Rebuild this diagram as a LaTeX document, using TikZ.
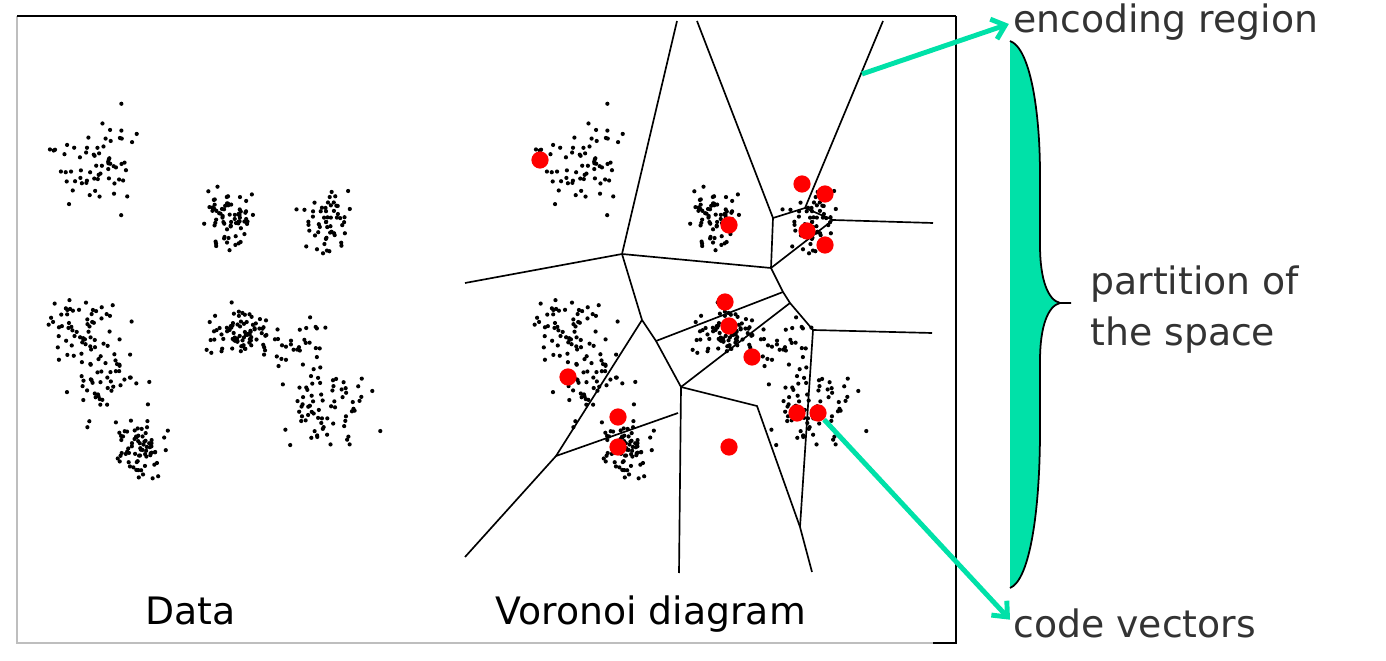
\documentclass[tikz,border=0pt]{standalone}
\usepackage{fontspec}
\setmainfont{DejaVu Sans}
\usetikzlibrary{arrows.meta}
\definecolor{mint}{RGB}{0,225,168}
\definecolor{darktext}{RGB}{51,51,51}
\definecolor{framegray}{RGB}{190,190,190}
\def\cluster(#1,#2)(#3,#4)(#5){\foreach \k in {1,...,#5}{\pgfmathsetmacro{\px}{#1+#3*(rand+rand+rand)}\pgfmathsetmacro{\py}{#2+#4*(rand+rand+rand)}\fill (\px,\py) circle (2.1);}}
\def\datacloud{%
	\pgfmathsetseed{17}%
	\cluster(95,160)(20,22)(65)
	\cluster(229,218)(12,14)(70)
	\cluster(327,222)(12,15)(55)
	\cluster(78,325)(20,18)(55)
	\cluster(104,385)(20,20)(55)
	\cluster(138,448)(12,12)(70)
	\cluster(238,333)(14,12)(80)
	\cluster(300,345)(18,14)(30)
	\cluster(330,405)(22,20)(70)
}

\begin{document}
\begin{tikzpicture}[x=0.2mm, y=-0.2mm,
		cell/.style={line width=0.95pt},
		codevec/.style={circle, fill=red, inner sep=0pt, minimum size=9.8pt},
		pointer/.style={mint, line width=2.8pt, shorten >=2.5pt, -{Straight Barb[length=7pt,width=12pt]}},
		captext/.style={font=\fontsize{21.5}{29}\selectfont, inner sep=0pt, anchor=base west},
		notetext/.style={captext, text=darktext}]
		%%%%% START %%%%%
		\useasboundingbox (0,0) rectangle (1386,661);
		
		\draw[framegray, line width=0.9pt] (956,643) -- (17,643) -- (17,16);
		\draw[line width=1.6pt] (17,16) -- (956,16);
		\draw[line width=1.2pt] (956,16) -- (956,643) -- (933,643);
		
		% data, left and right
		\datacloud
		\begin{scope}[shift={(486,0)}]
			\datacloud
		\end{scope}
		
		% voronoi cells
		\draw[cell] (677,21) -- (622,254) -- (465,283);
		\draw[cell] (697,21) -- (773,218) -- (805,208) -- (883,21);
		\draw[cell] (805,208) -- (833,220) -- (933,223);
		\draw[cell] (773,218) -- (771,268) -- (622,254);
		\draw[cell] (771,268) -- (833,220);
		\draw[cell] (771,268) -- (783,292) -- (790,303) -- (813,330) -- (932,333);
		\draw[cell] (783,292) -- (656,341);
		\draw[cell] (622,254) -- (642,320) -- (656,341) -- (681,387) -- (790,303);
		\draw[cell] (642,320) -- (556,456) -- (465,557);
		\draw[cell] (556,456) -- (678,413);
		\draw[cell] (681,387) -- (679,573);
		\draw[cell] (681,387) -- (757,406) -- (800,527) -- (812,572);
		\draw[cell] (813,330) -- (800,527);
		
		% code vectors
		\node[codevec] (cv1) at (540,160) {};
		\node[codevec] (cv2) at (729,225) {};
		\node[codevec] (cv3) at (802,184) {};
		\node[codevec] (cv4) at (825,194) {};
		\node[codevec] (cv5) at (807,231) {};
		\node[codevec] (cv6) at (825,245) {};
		\node[codevec] (cv7) at (725,302) {};
		\node[codevec] (cv8) at (729,326) {};
		\node[codevec] (cv9) at (752,357) {};
		\node[codevec] (cv10) at (568,377) {};
		\node[codevec] (cv11) at (618,417) {};
		\node[codevec] (cv12) at (618,447) {};
		\node[codevec] (cv13) at (729,447) {};
		\node[codevec] (cv14) at (797,413) {};
		\node[codevec] (cv15) at (818,413) {};
		
		% brace
		\fill[mint] (1010,41) .. controls (1030,48) and (1040,110) .. (1040,175) -- (1040,245) .. controls (1040,280) and (1048,300) .. (1060,303) -- (1060,303) .. controls (1048,306) and (1040,326) .. (1040,361) -- (1040,430) .. controls (1040,510) and (1030,580) .. (1010,588) -- cycle;
		\draw[line width=1pt] (1010,41) .. controls (1030,48) and (1040,110) .. (1040,175) -- (1040,245) .. controls (1040,280) and (1048,300) .. (1060,303) -- (1071,303) -- (1060,303) .. controls (1048,306) and (1040,326) .. (1040,361) -- (1040,430) .. controls (1040,510) and (1030,580) .. (1010,588);
		
		% labels
		\node[captext] (data) at (145,624) {Data};
		\node[captext] (voronoi) at (495,624) {Voronoi diagram};
		\node[notetext] (encoding) at (1013,33) {encoding region};
		\node[notetext, anchor=west, align=left] (partition) at (1090,310) {partition of\\the space};
		\node[notetext] (codevectors) at (1013,637) {code vectors};
		
		\coordinate (regpt) at (862,74);
		\draw[pointer] (regpt) -- (encoding.west);
		\draw[pointer] (cv15) -- (codevectors.west);
		%%%%% END %%%%%
	\end{tikzpicture}
\end{document}
